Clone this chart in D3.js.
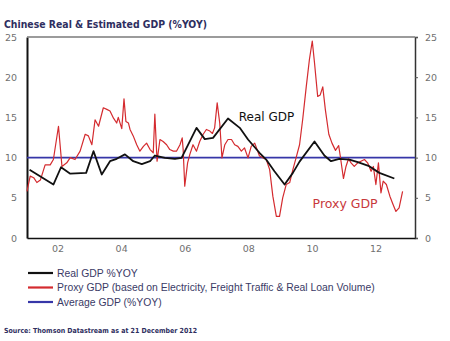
<!DOCTYPE html>
<html>
<head>
<meta charset="utf-8">
<script src="https://cdn.jsdelivr.net/npm/d3@7"></script>
<style>
  body { margin: 0; background: #fff; }
  svg { display: block; }
</style>
</head>
<body>
<div id="chart"></div>
<script>
// real GDP, quarterly (decimal year, %yoy)
var realYears = [2001.12, 2001.87, 2002.11, 2002.40, 2002.90, 2003.13, 2003.39, 2003.65, 2003.86,
  2004.12, 2004.38, 2004.65, 2004.91, 2005.06, 2005.38, 2005.69, 2005.90, 2006.37, 2006.63,
  2006.89, 2007.36, 2007.73, 2007.99, 2008.35, 2008.56, 2008.82, 2009.14, 2009.40, 2009.61,
  2010.08, 2010.39, 2010.60, 2010.86, 2011.18, 2011.44, 2011.80, 2012.12, 2012.59];
var realGdp = [8.5, 6.65, 8.8, 8.0, 8.1, 10.8, 7.9, 9.55, 9.85,
  10.4, 9.55, 9.2, 9.55, 10.26, 9.97, 9.85, 9.97, 13.7, 12.3,
  12.45, 14.86, 13.7, 12.25, 10.6, 9.76, 8.3, 6.65, 8.1, 9.5,
  12.0, 10.26, 9.55, 9.85, 9.76, 9.43, 8.93, 8.1, 7.4];

// proxy GDP, monthly-ish (electricity, freight, real loans)
var proxyYears = [2001.04, 2001.14, 2001.25, 2001.35, 2001.46, 2001.61, 2001.77, 2001.87, 2002.03,
  2002.14, 2002.29, 2002.40, 2002.55, 2002.71, 2002.87, 2002.97, 2003.08, 2003.18, 2003.29,
  2003.44, 2003.55, 2003.65, 2003.76, 2003.86, 2003.91, 2004.02, 2004.09, 2004.15, 2004.23,
  2004.28, 2004.38, 2004.49, 2004.59, 2004.70, 2004.80, 2004.91, 2005.01, 2005.06, 2005.13,
  2005.22, 2005.32, 2005.43, 2005.53, 2005.64, 2005.74, 2005.85, 2005.92, 2005.95, 2006.00,
  2006.09, 2006.16, 2006.26, 2006.37, 2006.47, 2006.58, 2006.68, 2006.79, 2006.87, 2006.94,
  2007.02, 2007.10, 2007.17, 2007.26, 2007.36, 2007.47, 2007.57, 2007.67, 2007.78, 2007.88,
  2007.99, 2008.09, 2008.20, 2008.35, 2008.46, 2008.56, 2008.67, 2008.77, 2008.88, 2008.98,
  2009.08, 2009.19, 2009.30, 2009.40, 2009.50, 2009.61, 2009.71, 2009.82, 2009.92, 2010.01,
  2010.08, 2010.18, 2010.26, 2010.34, 2010.42, 2010.53, 2010.63, 2010.74, 2010.84, 2010.89,
  2010.99, 2011.07, 2011.15, 2011.23, 2011.33, 2011.44, 2011.54, 2011.65, 2011.75, 2011.86,
  2011.93, 2012.01, 2012.09, 2012.17, 2012.24, 2012.34, 2012.45, 2012.55, 2012.64, 2012.74,
  2012.85];
var proxyGdp = [5.8, 7.7, 7.5, 6.9, 7.2, 9.1, 9.1, 9.76, 13.9,
  8.9, 9.35, 10.0, 9.76, 10.8, 12.9, 12.7, 11.6, 14.7, 13.9,
  16.2, 16.0, 15.8, 14.9, 14.3, 15.0, 13.6, 17.3, 14.5, 14.3,
  13.5, 12.7, 11.6, 10.8, 11.4, 11.8, 11.0, 10.6, 15.4, 9.55,
  12.25, 12.0, 11.6, 11.0, 10.8, 10.8, 11.6, 12.45, 11.0, 6.45,
  9.35, 10.4, 11.6, 10.8, 12.0, 12.9, 13.5, 13.3, 13.0, 13.7,
  16.8, 14.3, 9.97, 11.6, 12.25, 12.25, 11.6, 11.4, 10.8, 11.2,
  9.97, 11.4, 11.8, 10.2, 9.97, 9.8, 8.5, 5.2, 2.7, 2.7,
  5.0, 6.65, 6.9, 8.5, 9.97, 11.6, 14.8, 18.8, 22.2, 24.5,
  21.8, 17.6, 17.8, 18.8, 16.0, 12.9, 11.8, 10.9, 11.5, 10.2,
  7.4, 8.9, 9.85, 9.35, 8.9, 9.35, 9.55, 9.76, 9.35, 8.3,
  8.9, 6.65, 9.35, 5.6, 7.07, 6.65, 5.2, 4.17, 3.3, 3.75,
  5.8];

var averageGdp = 10;
var yTicks = [0, 5, 10, 15, 20, 25];
var xTicks = [2002, 2004, 2006, 2008, 2010, 2012];

var legendLabels = ["Real GDP %YOY",
  "Proxy GDP (based on Electricity, Freight Traffic & Real Loan Volume)",
  "Average GDP (%YOY)"];

var black = "#111111", red = "#d42b2f", blue = "#3636a8", navy = "#2e2e60";

var margin = {top: 37, right: 35, bottom: 103, left: 27},
  width = 450 - margin.left - margin.right,
  height = 341 - margin.top - margin.bottom;

var root = d3.select("#chart").append("svg")
  .attr("width", 450)
  .attr("height", 341);

root.append("text")
  .attr("x", 4)
  .attr("y", 28)
  .attr("font-family", "DejaVu Sans, sans-serif")
  .attr("font-weight", "bold")
  .attr("font-size", 10.5)
  .attr("fill", navy)
  .attr("textLength", 203)
  .attr("lengthAdjust", "spacingAndGlyphs")
  .text("Chinese Real & Estimated GDP (%YOY)");

var svg = root.append("g")
  .attr("transform", "translate(" + margin.left + "," + margin.top + ")");

var x = d3.scaleLinear()
  .domain([2001.04, 2013.24])
  .range([0, width]);

var y = d3.scaleLinear()
  .domain([0, 25])
  .range([height, 0]);

// axes
var yLeft = svg.append("g")
  .call(d3.axisLeft(y).tickValues(yTicks).tickSize(0).tickPadding(10));
var yRight = svg.append("g")
  .attr("transform", "translate(" + width + ",0)")
  .call(d3.axisRight(y).tickValues(yTicks).tickSize(3).tickPadding(7));
var xAxis = svg.append("g")
  .attr("transform", "translate(0," + height + ")")
  .call(d3.axisBottom(x).tickValues(xTicks).tickSize(0).tickPadding(7)
    .tickFormat(function(d) { return d3.format("02d")(d % 100); }));

[yLeft, yRight, xAxis].forEach(function(g) {
  g.selectAll("text")
    .attr("font-family", "DejaVu Sans, sans-serif")
    .attr("font-size", 9.5)
    .attr("fill", "#707070");
});
yLeft.select(".domain").attr("stroke", black).attr("stroke-width", 2);
yRight.select(".domain").attr("stroke", "#333").attr("stroke-width", 1.5);
yRight.selectAll(".tick line").attr("stroke", "#555");
xAxis.select(".domain").attr("stroke", black).attr("stroke-width", 1.5);

svg.append("line")
  .attr("x1", 0).attr("x2", width)
  .attr("y1", 0).attr("y2", 0)
  .attr("stroke", "#7a7a7a")
  .attr("stroke-width", 1.5);

// average line
svg.append("line")
  .attr("x1", 0).attr("x2", width)
  .attr("y1", y(averageGdp)).attr("y2", y(averageGdp))
  .attr("stroke", blue)
  .attr("stroke-width", 1.8);

var line = d3.line()
  .x(function(d) { return x(d[0]); })
  .y(function(d) { return y(d[1]); });

svg.append("path")
  .datum(d3.zip(proxyYears, proxyGdp))
  .attr("fill", "none")
  .attr("stroke", red)
  .attr("stroke-width", 1.2)
  .attr("stroke-linejoin", "round")
  .attr("d", line);

svg.append("path")
  .datum(d3.zip(realYears, realGdp))
  .attr("fill", "none")
  .attr("stroke", black)
  .attr("stroke-width", 1.8)
  .attr("stroke-linejoin", "round")
  .attr("d", line);

// in-chart labels
svg.append("text")
  .attr("x", x(2007.7))
  .attr("y", y(14.5))
  .attr("font-family", "DejaVu Sans, sans-serif")
  .attr("font-size", 12)
  .attr("fill", black)
  .text("Real GDP");

svg.append("text")
  .attr("x", x(2010.02))
  .attr("y", y(3.75))
  .attr("font-family", "DejaVu Sans, sans-serif")
  .attr("font-size", 12.5)
  .attr("fill", "#c8383c")
  .text("Proxy GDP");

// legend
var legend = root.append("g")
  .attr("transform", "translate(28,273)");
var legendColors = [black, red, blue];

legendLabels.forEach(function(label, i) {
  var row = legend.append("g").attr("transform", "translate(0," + i * 14.5 + ")");
  row.append("line")
    .attr("x1", 0).attr("x2", 25)
    .attr("stroke", legendColors[i])
    .attr("stroke-width", 2.2);
  row.append("text")
    .attr("x", 29)
    .attr("y", 3.5)
    .attr("font-family", "Liberation Sans, Arial, sans-serif")
    .attr("font-size", 10.4)
    .attr("fill", "#3a3a66")
    .text(label);
});

root.append("text")
  .attr("x", 4)
  .attr("y", 333)
  .attr("font-family", "DejaVu Sans, sans-serif")
  .attr("font-weight", "bold")
  .attr("font-size", 7)
  .attr("fill", navy)
  .attr("textLength", 193)
  .attr("lengthAdjust", "spacingAndGlyphs")
  .text("Source: Thomson Datastream as at 21 December 2012");
</script>
</body>
</html>
